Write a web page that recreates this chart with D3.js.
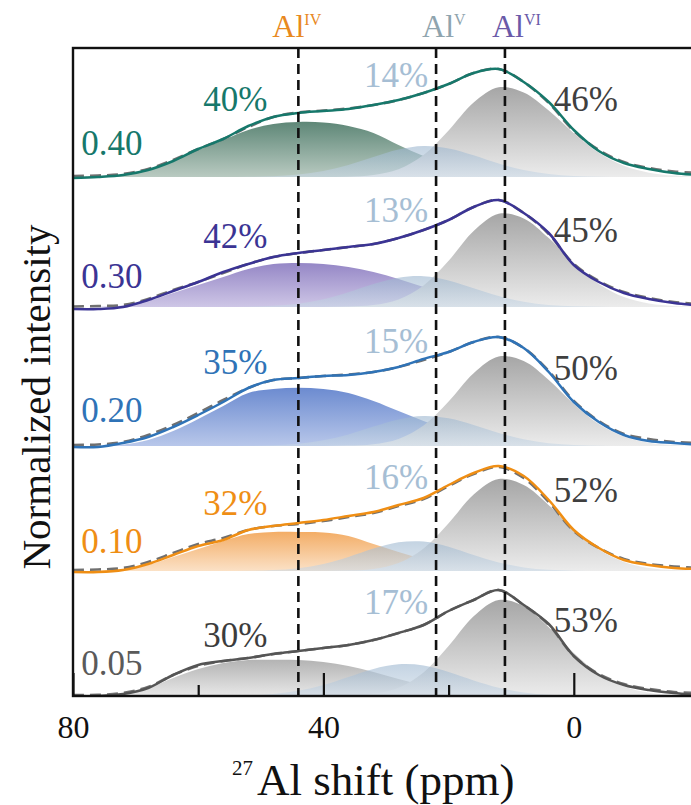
<!DOCTYPE html>
<html>
<head>
<meta charset="utf-8">
<script src="https://cdn.jsdelivr.net/npm/d3@7"></script>
<style>
  body { margin: 0; background: #fff; }
  svg { display: block; }
  text { font-family: "Liberation Serif", "Times New Roman", serif; }
</style>
</head>
<body>
<svg id="chart" width="691" height="805"></svg>
<script>
// 27Al MAS NMR spectra, shared chemical-shift grid (ppm)
const ppm = [80, 76, 72, 68, 64, 60, 56, 52, 48, 44, 40, 36, 32, 28, 24, 20, 16, 12, 8, 4, 0, -4, -8, -12, -16, -20];

const samples = ["0.40", "0.30", "0.20", "0.10", "0.05"];
// vertical stacking offset of each spectrum (normalized intensity units)
const stackOffset = [5.19, 3.89, 2.50, 1.25, 0];

// experimental spectra
const expt040 = [-0.01, 0.0, 0.02, 0.07, 0.16, 0.28, 0.38, 0.51, 0.60, 0.64, 0.66, 0.68, 0.72, 0.77, 0.84, 0.93, 1.04, 1.08, 0.95, 0.75, 0.47, 0.26, 0.14, 0.08, 0.04, 0.02];
const expt030 = [-0.02, -0.02, 0.0, 0.07, 0.16, 0.25, 0.35, 0.43, 0.50, 0.54, 0.57, 0.60, 0.63, 0.69, 0.77, 0.87, 1.00, 1.07, 0.94, 0.74, 0.42, 0.25, 0.14, 0.08, 0.04, 0.015];
const expt020 = [-0.01, -0.01, 0.03, 0.09, 0.19, 0.31, 0.44, 0.58, 0.66, 0.68, 0.70, 0.71, 0.74, 0.79, 0.87, 0.94, 1.04, 1.09, 0.98, 0.74, 0.44, 0.24, 0.11, 0.05, 0.03, 0.01];
const expt010 = [-0.01, -0.01, 0.01, 0.07, 0.16, 0.25, 0.31, 0.41, 0.45, 0.48, 0.51, 0.55, 0.59, 0.66, 0.73, 0.86, 0.98, 1.05, 0.95, 0.71, 0.41, 0.23, 0.11, 0.06, 0.03, 0.02];
const expt005 = [0.0, 0.0, 0.02, 0.08, 0.21, 0.31, 0.35, 0.38, 0.42, 0.45, 0.48, 0.51, 0.56, 0.63, 0.71, 0.85, 0.96, 1.06, 0.91, 0.72, 0.40, 0.21, 0.11, 0.06, 0.03, 0.01];

// fitted envelopes
const fit040 = [0.01, 0.015, 0.03, 0.08, 0.17, 0.28, 0.38, 0.50, 0.60, 0.645, 0.665, 0.685, 0.72, 0.77, 0.84, 0.93, 1.04, 1.08, 0.95, 0.74, 0.46, 0.27, 0.15, 0.09, 0.055, 0.04];
const fit030 = [0.005, 0.01, 0.02, 0.08, 0.17, 0.25, 0.34, 0.43, 0.50, 0.54, 0.57, 0.60, 0.63, 0.69, 0.77, 0.87, 1.00, 1.07, 0.94, 0.73, 0.43, 0.26, 0.15, 0.09, 0.05, 0.03];
const fit020 = [0.01, 0.015, 0.04, 0.11, 0.21, 0.33, 0.46, 0.58, 0.66, 0.68, 0.70, 0.715, 0.74, 0.79, 0.86, 0.94, 1.04, 1.09, 0.98, 0.75, 0.45, 0.25, 0.12, 0.07, 0.04, 0.03];
const fit010 = [0.01, 0.015, 0.03, 0.09, 0.18, 0.27, 0.33, 0.41, 0.45, 0.47, 0.50, 0.54, 0.58, 0.65, 0.72, 0.85, 0.97, 1.04, 0.93, 0.69, 0.40, 0.23, 0.12, 0.07, 0.045, 0.03];
const fit005 = [0.01, 0.012, 0.03, 0.09, 0.21, 0.30, 0.35, 0.38, 0.42, 0.45, 0.48, 0.51, 0.56, 0.63, 0.71, 0.85, 0.96, 1.06, 0.91, 0.71, 0.40, 0.22, 0.12, 0.07, 0.04, 0.03];

// deconvoluted components: four-, five- and six-coordinated Al
const alIV040 = [0, 0.005, 0.02, 0.07, 0.16, 0.27, 0.37, 0.47, 0.53, 0.55, 0.545, 0.51, 0.44, 0.32, 0.21, 0.12, 0.065, 0.03, 0.015, 0.005, 0, 0, 0, 0, 0, 0];
const alIV030 = [0, 0.003, 0.015, 0.06, 0.14, 0.22, 0.30, 0.38, 0.43, 0.44, 0.43, 0.40, 0.35, 0.28, 0.20, 0.13, 0.07, 0.03, 0.012, 0.004, 0, 0, 0, 0, 0, 0];
const alIV020 = [0, 0.003, 0.015, 0.06, 0.15, 0.27, 0.40, 0.53, 0.57, 0.583, 0.57, 0.53, 0.45, 0.35, 0.25, 0.16, 0.09, 0.045, 0.02, 0.007, 0.002, 0, 0, 0, 0, 0];
const alIV010 = [0, 0.003, 0.015, 0.06, 0.14, 0.22, 0.30, 0.37, 0.39, 0.39, 0.385, 0.35, 0.27, 0.19, 0.12, 0.07, 0.035, 0.016, 0.006, 0.002, 0, 0, 0, 0, 0, 0];
const alIV005 = [0, 0.003, 0.02, 0.08, 0.18, 0.27, 0.33, 0.36, 0.363, 0.36, 0.34, 0.30, 0.24, 0.17, 0.11, 0.065, 0.035, 0.016, 0.006, 0.002, 0, 0, 0, 0, 0, 0];

const alV040 = [0, 0, 0, 0, 0, 0, 0, 0.002, 0.008, 0.024, 0.06, 0.12, 0.20, 0.275, 0.31, 0.286, 0.218, 0.135, 0.069, 0.029, 0.01, 0.003, 0, 0, 0, 0];
const alV030 = [0, 0, 0, 0, 0, 0, 0, 0.003, 0.012, 0.033, 0.077, 0.147, 0.229, 0.293, 0.308, 0.265, 0.188, 0.11, 0.052, 0.02, 0.007, 0.002, 0, 0, 0, 0];
const alV020 = [0, 0, 0, 0, 0, 0, 0, 0.002, 0.008, 0.023, 0.057, 0.116, 0.194, 0.266, 0.30, 0.277, 0.21, 0.131, 0.067, 0.028, 0.01, 0.003, 0, 0, 0, 0];
const alV010 = [0, 0, 0, 0, 0, 0, 0, 0.002, 0.009, 0.028, 0.07, 0.14, 0.224, 0.287, 0.295, 0.243, 0.16, 0.085, 0.036, 0.012, 0.003, 0, 0, 0, 0, 0];
const alV005 = [0, 0, 0, 0, 0, 0, 0, 0.006, 0.02, 0.052, 0.109, 0.19, 0.271, 0.317, 0.305, 0.24, 0.156, 0.083, 0.036, 0.013, 0.004, 0.001, 0, 0, 0, 0];

const alVI040 = [0, 0, 0, 0, 0, 0, 0, 0, 0, 0, 0, 0.003, 0.021, 0.078, 0.22, 0.466, 0.745, 0.897, 0.845, 0.664, 0.438, 0.242, 0.112, 0.043, 0.014, 0.004];
const alVI030 = [0, 0, 0, 0, 0, 0, 0, 0, 0, 0, 0, 0.004, 0.019, 0.075, 0.215, 0.463, 0.76, 0.933, 0.886, 0.689, 0.44, 0.23, 0.099, 0.035, 0.01, 0.003];
const alVI020 = [0, 0, 0, 0, 0, 0, 0, 0, 0, 0, 0, 0.004, 0.018, 0.071, 0.205, 0.444, 0.727, 0.894, 0.849, 0.66, 0.421, 0.22, 0.095, 0.033, 0.01, 0.003];
const alVI010 = [0, 0, 0, 0, 0, 0, 0, 0, 0, 0, 0, 0.004, 0.021, 0.08, 0.225, 0.478, 0.764, 0.92, 0.859, 0.658, 0.413, 0.214, 0.091, 0.031, 0.009, 0.002];
const alVI005 = [0, 0, 0, 0, 0, 0, 0, 0, 0, 0, 0, 0.004, 0.022, 0.083, 0.235, 0.499, 0.797, 0.96, 0.897, 0.687, 0.431, 0.223, 0.094, 0.033, 0.009, 0.002];

// relative populations (%)
const pctIV = [40, 42, 35, 32, 30];
const pctV = [14, 13, 15, 16, 17];
const pctVI = [46, 45, 50, 52, 53];

// reference shifts of the Al sites
const siteNames = ["IV", "V", "VI"];
const sitePpm = [44, 22, 11];

const xTicksMajor = [80, 40, 0];
const xTicksMinor = [60, 20];

// ---- styling / layout ----
const plotL = 73, plotR = 699, plotT = 48, plotB = 696;

const lineColors = ["#16786b", "#3b3494", "#2f73b7", "#ef8e14", "#555555"];
const ivTop = ["#5e8777", "#9587c6", "#6c8bd0", "#f3ad66", "#b3b3b3"];
const ivBot = ["#b9cac1", "#cec6e6", "#b8c7ea", "#fbe1c6", "#e8e8e8"];
const sampleLabelColors = ["#16786b", "#3b3494", "#2f73b7", "#ef8e14", "#5a5a5a"];
const ivLabelColors = ["#16786b", "#3b3494", "#2f73b7", "#ef8e14", "#3c3c3c"];
const siteColors = ["#e8891e", "#8fa4ae", "#6a5aa8"];
// label anchor heights above each baseline: [sample, IV, V, VI]
const labelLift = [
  [0.217, 0.657, 0.897, 0.657],
  [0.19, 0.59, 0.85, 0.65],
  [0.243, 0.72, 0.93, 0.66],
  [0.177, 0.557, 0.817, 0.687],
  [0.21, 0.49, 0.82, 0.64]
];
const labelPpm = [78.7, 59.2, 33.5, 3.2];
const labelSize = 35;

const svg = d3.select("#chart");
const defs = svg.append("defs");

const x = d3.scaleLinear().domain([80, -20]).range([plotL, plotR]);
const y = d3.scaleLinear().domain([0, 6.48]).range([plotB, plotT]);

defs.append("clipPath").attr("id", "plotClip")
  .append("rect").attr("x", plotL).attr("y", plotT)
  .attr("width", plotR - plotL).attr("height", plotB - plotT);

function vGrad(id, c0, c1, o0 = 1, o1 = 1) {
  const g = defs.append("linearGradient").attr("id", id)
    .attr("x1", 0).attr("y1", 0).attr("x2", 0).attr("y2", 1);
  g.append("stop").attr("offset", "0%").attr("stop-color", c0).attr("stop-opacity", o0);
  g.append("stop").attr("offset", "100%").attr("stop-color", c1).attr("stop-opacity", o1);
}
samples.forEach((s, i) => vGrad("gIV" + i, ivTop[i], ivBot[i]));
vGrad("gV", "#9cb6cf", "#c9d8e6", 0.8, 0.75);
vGrad("gVI", "#a6a6a6", "#ececec");

const expt = [expt040, expt030, expt020, expt010, expt005];
const fit = [fit040, fit030, fit020, fit010, fit005];
const compIV = [alIV040, alIV030, alIV020, alIV010, alIV005];
const compV = [alV040, alV030, alV020, alV010, alV005];
const compVI = [alVI040, alVI030, alVI020, alVI010, alVI005];

const curve = d3.curveCatmullRom.alpha(0.5);
const plot = svg.append("g").attr("clip-path", "url(#plotClip)");

samples.forEach((s, i) => {
  const off = stackOffset[i];
  const area = d3.area().curve(curve)
    .x((d, j) => x(ppm[j]))
    .y0(y(off))
    .y1(d => y(off + d));
  const line = d3.line().curve(curve)
    .x((d, j) => x(ppm[j]))
    .y(d => y(off + d));

  const g = plot.append("g").attr("class", "spectrum");
  g.append("path").datum(compIV[i]).attr("d", area).attr("fill", `url(#gIV${i})`);
  g.append("path").datum(compVI[i]).attr("d", area).attr("fill", "url(#gVI)");
  g.append("path").datum(compV[i]).attr("d", area).attr("fill", "url(#gV)").attr("opacity", 0.75);

  g.append("path").datum(fit[i]).attr("d", line)
    .attr("fill", "none").attr("stroke", "#707070").attr("stroke-width", 2.6)
    .attr("stroke-dasharray", "11,6");
  g.append("path").datum(expt[i]).attr("d", line)
    .attr("fill", "none").attr("stroke", lineColors[i]).attr("stroke-width", 2.5)
    .attr("stroke-linejoin", "round");
});

// reference-shift markers
plot.selectAll("line.site").data(sitePpm).join("line")
  .attr("class", "site")
  .attr("x1", d => x(d)).attr("x2", d => x(d))
  .attr("y1", plotT).attr("y2", plotB)
  .attr("stroke", "#111").attr("stroke-width", 2.6)
  .attr("stroke-dasharray", "10,6");

// labels inside panels
const lab = svg.append("g");
samples.forEach((s, i) => {
  const off = stackOffset[i];
  const L = labelLift[i];
  lab.append("text").attr("x", x(labelPpm[0])).attr("y", y(off + L[0]))
    .attr("font-size", labelSize).attr("fill", sampleLabelColors[i]).text(s);
  lab.append("text").attr("x", x(labelPpm[1])).attr("y", y(off + L[1]))
    .attr("font-size", labelSize).attr("fill", ivLabelColors[i]).text(pctIV[i] + "%");
  lab.append("text").attr("x", x(labelPpm[2])).attr("y", y(off + L[2]))
    .attr("font-size", labelSize).attr("fill", "#a6bed4").text(pctV[i] + "%");
  lab.append("text").attr("x", x(labelPpm[3])).attr("y", y(off + L[3]))
    .attr("font-size", labelSize).attr("fill", "#3f3f3f").text(pctVI[i] + "%");
});

// site labels above the frame
const siteDx = [-26, -14, -13];
siteNames.forEach((n, k) => {
  const t = svg.append("text").attr("x", x(sitePpm[k]) + siteDx[k]).attr("y", 37)
    .attr("font-size", 32).attr("fill", siteColors[k]);
  t.append("tspan").text("Al");
  t.append("tspan").attr("font-size", 16).attr("dy", -12).text(n);
});

// frame
svg.append("rect").attr("x", plotL).attr("y", plotT)
  .attr("width", plotR - plotL).attr("height", plotB - plotT)
  .attr("fill", "none").attr("stroke", "#111").attr("stroke-width", 2.4);

// x axis: inward ticks
const axMajor = svg.append("g").attr("transform", `translate(0,${plotB})`)
  .call(d3.axisBottom(x).tickValues(xTicksMajor).tickSize(-23).tickPadding(19).tickFormat(d3.format("d")));
const axMinor = svg.append("g").attr("transform", `translate(0,${plotB})`)
  .call(d3.axisBottom(x).tickValues(xTicksMinor).tickSize(-11).tickFormat(""));
[axMajor, axMinor].forEach(a => {
  a.select(".domain").remove();
  a.selectAll(".tick line").attr("stroke", "#111").attr("stroke-width", 2.2);
  a.selectAll(".tick text").attr("font-size", 32).attr("fill", "#111")
    .attr("font-family", "'Liberation Serif','Times New Roman',serif");
});

// axis titles
const xt = svg.append("text").attr("x", 232).attr("y", 795).attr("fill", "#111");
xt.append("tspan").attr("font-size", 21).attr("dy", -20).text("27");
xt.append("tspan").attr("font-size", 45).attr("dy", 20).attr("dx", 4).text("Al shift (ppm)");

svg.append("text")
  .attr("transform", "translate(50,397) rotate(-90)")
  .attr("text-anchor", "middle").attr("font-size", 41).attr("fill", "#111")
  .text("Normalized intensity");
</script>
</body>
</html>
